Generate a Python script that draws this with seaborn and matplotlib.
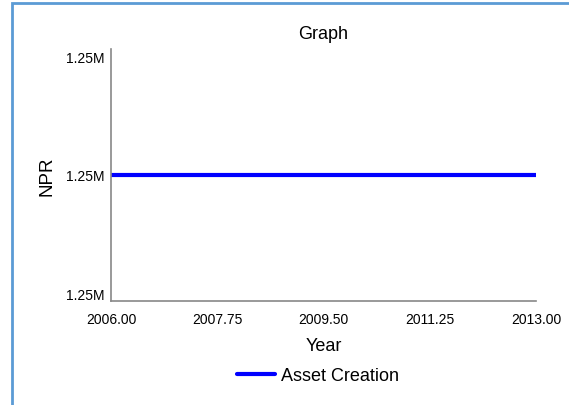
import matplotlib
matplotlib.use("Agg")
import matplotlib.pyplot as plt
from matplotlib.ticker import FixedLocator, FuncFormatter
from matplotlib.patches import Rectangle
import pandas as pd
import seaborn as sns

# data
years = [2006, 2007, 2008, 2009, 2010, 2011, 2012, 2013]
npr = [1250000, 1250000, 1250000, 1250000, 1250000, 1250000, 1250000, 1250000]
x_ticks = [2006.00, 2007.75, 2009.50, 2011.25, 2013.00]
series_name = "Asset Creation"

df = pd.DataFrame({"Year": years, "NPR": npr, "series": series_name})

sns.set_theme(style="white")
plt.rcParams["font.family"] = ["Liberation Sans", "DejaVu Sans"]
plt.rcParams["text.color"] = "black"
plt.rcParams["axes.labelcolor"] = "black"

fig = plt.figure(figsize=(5.69, 4.06), dpi=100)
ax = fig.add_axes([111 / 569, 1 - 302 / 406, (536 - 111) / 569, (302 - 50) / 406])

sns.lineplot(data=df, x="Year", y="NPR", hue="series", palette=["#0000ff"],
             linewidth=3, ax=ax, legend=False)

v = npr[0]
ax.set_xlim(x_ticks[0], x_ticks[-1])
ax.set_ylim(v - 1.06, v + 1.06)
ax.xaxis.set_major_locator(FixedLocator(x_ticks))
ax.xaxis.set_major_formatter(FuncFormatter(lambda x, p: f"{x:.2f}"))
ax.yaxis.set_major_locator(FixedLocator([v - 1, v, v + 1]))
ax.yaxis.set_major_formatter(FuncFormatter(lambda y, p: f"{y / 1e6:.2f}M"))
ax.tick_params(axis="x", length=0, labelsize=10, colors="black", pad=8)
ax.tick_params(axis="y", length=0, labelsize=10, colors="black", pad=5)

for s in ["top", "right"]:
    ax.spines[s].set_visible(False)
for s in ["left", "bottom"]:
    ax.spines[s].set_color("#888888")
    ax.spines[s].set_linewidth(1.2)

ax.set_title("Graph", fontsize=13, pad=8, color="black")
ax.set_xlabel("Year", fontsize=13, labelpad=8)
ax.set_ylabel("NPR", fontsize=13.5, labelpad=7)

handle = plt.Line2D([], [], color="#0000ff", linewidth=3)
fig.legend([handle], [series_name], loc="center", bbox_to_anchor=(318 / 569, 1 - 377 / 406),
           frameon=False, fontsize=13, handlelength=2.1, handletextpad=0.35)

# blue frame on left and top edges
fig.patches.append(Rectangle((11.5 / 569, -0.05), 1.2, 1 - 3.5 / 406 + 0.05,
                             transform=fig.transFigure, fill=False,
                             edgecolor="#5b9bd5", linewidth=2, figure=fig))

fig.savefig("out.png", dpi=100)
